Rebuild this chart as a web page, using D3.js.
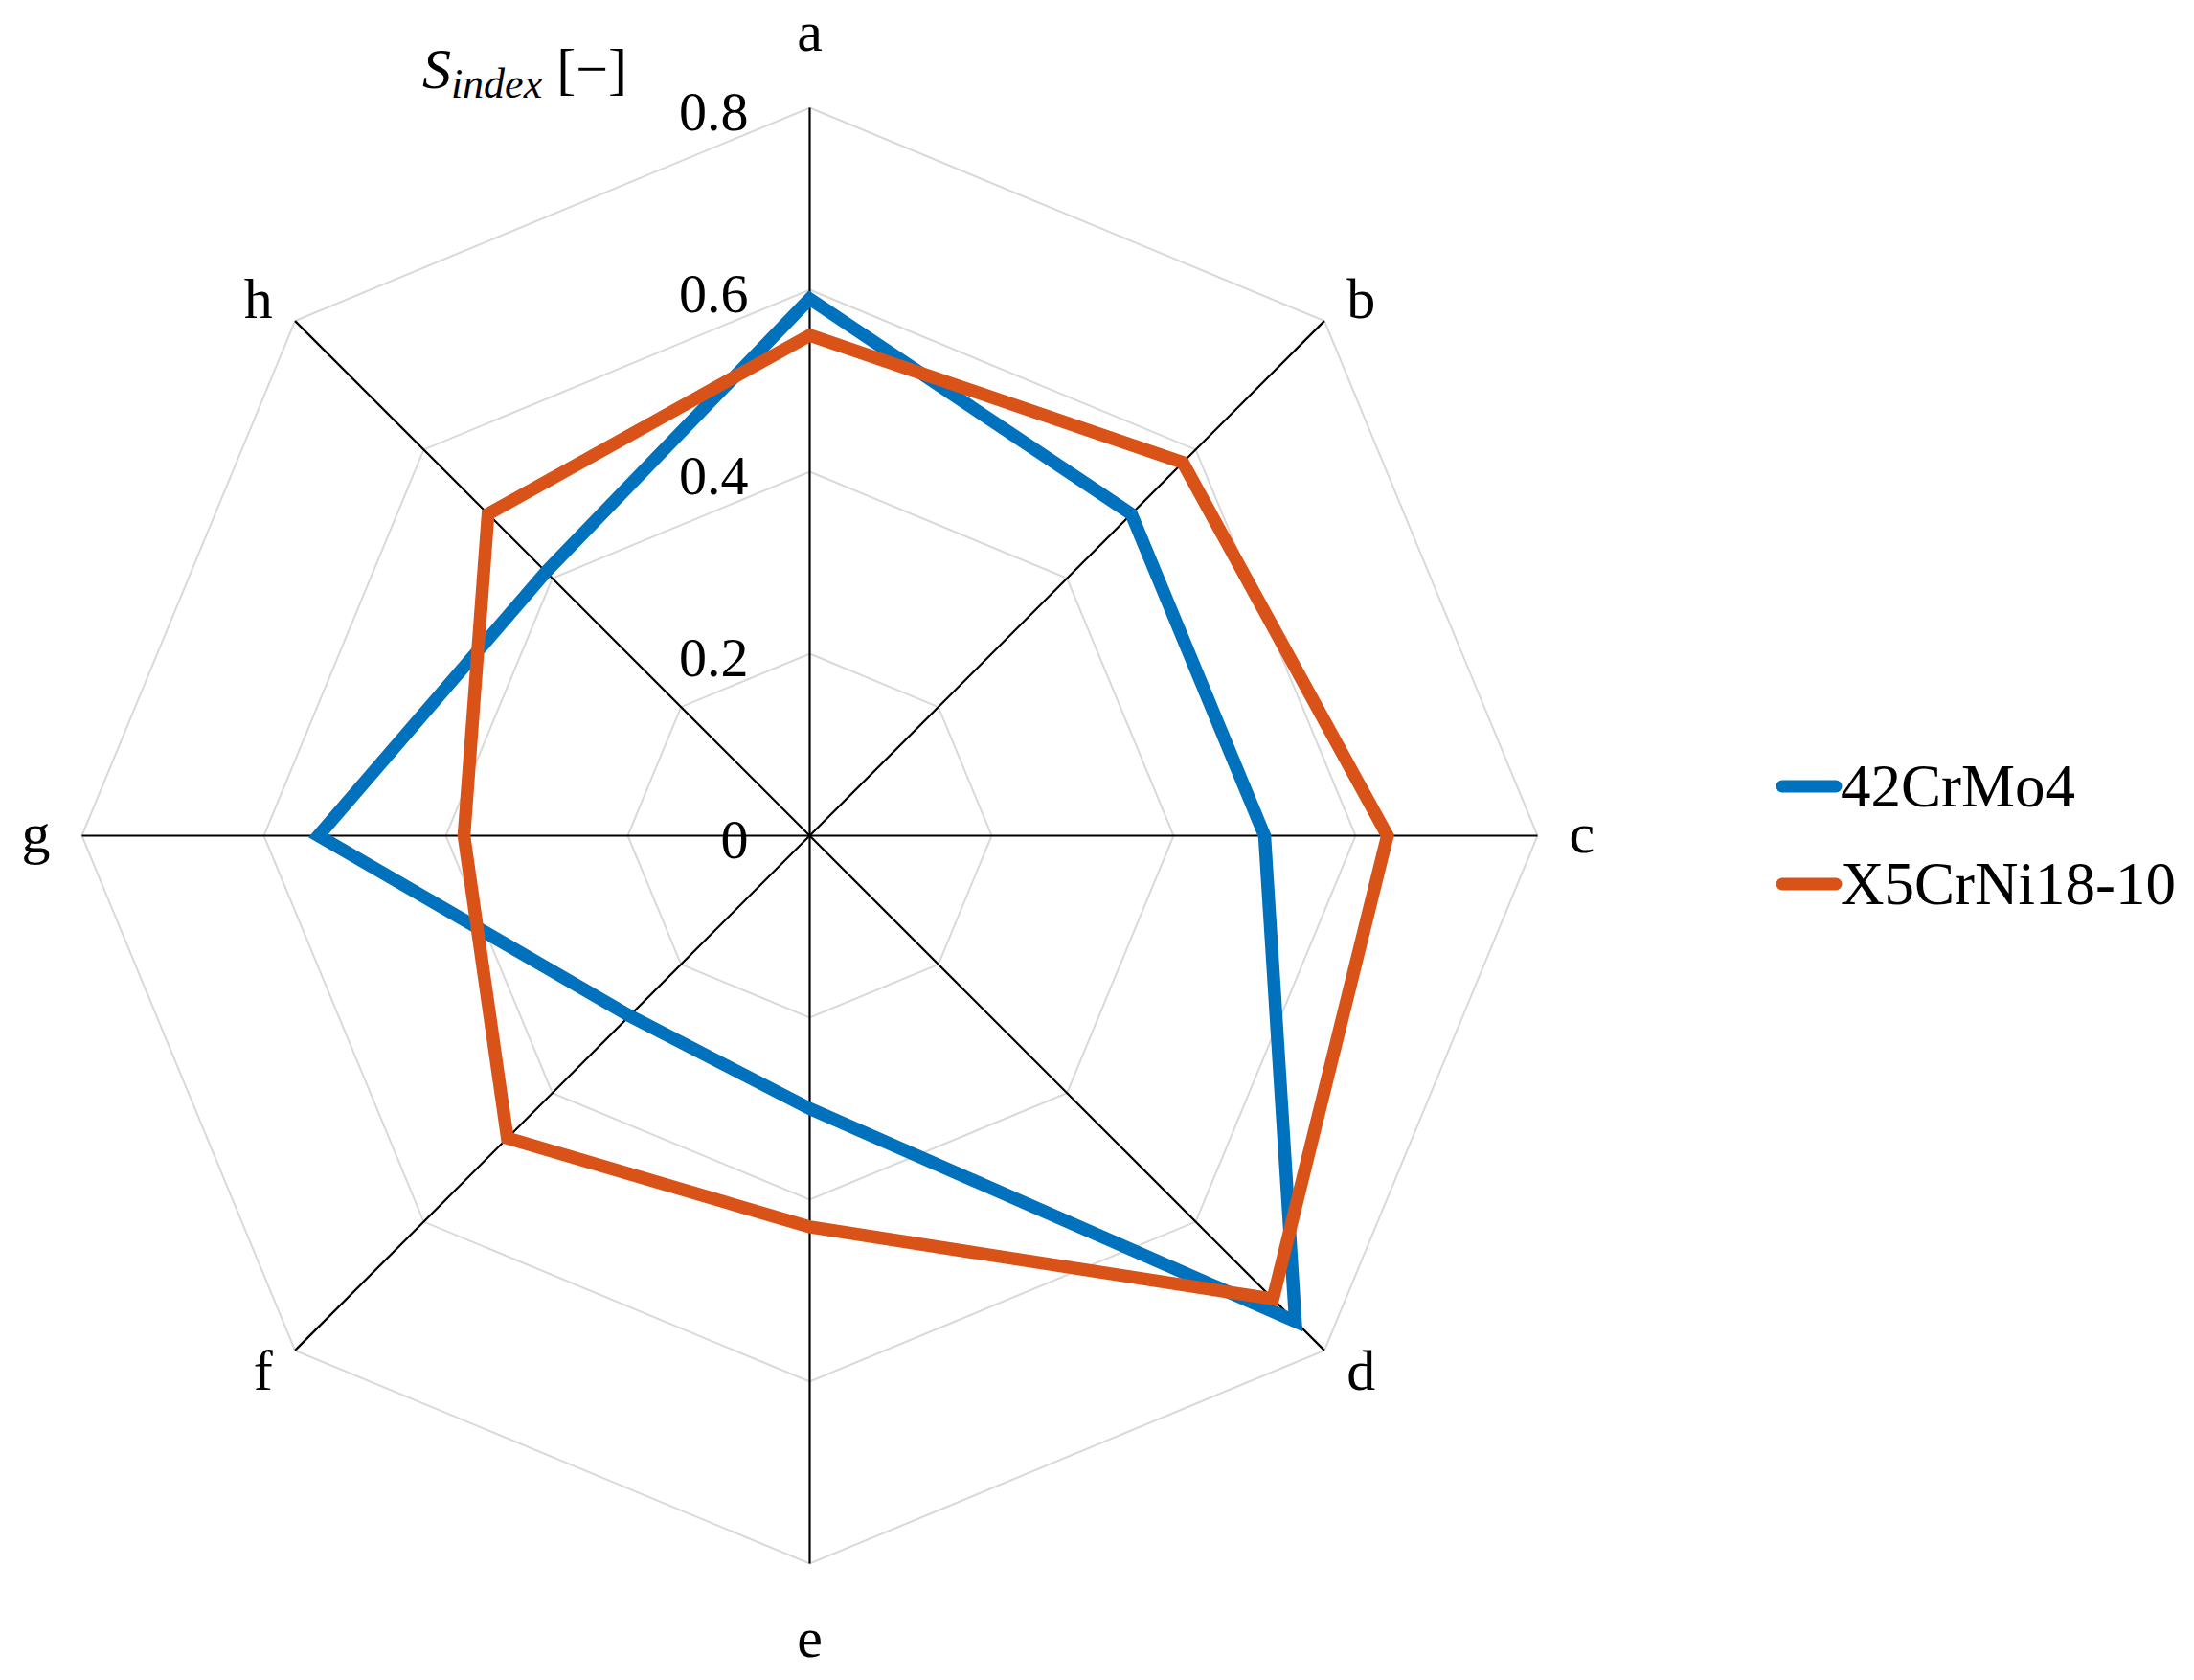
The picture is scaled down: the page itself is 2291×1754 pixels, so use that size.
<!DOCTYPE html>
<html>
<head>
<meta charset="utf-8">
<script src="https://cdn.jsdelivr.net/npm/d3@7"></script>
<style>
  html, body { margin: 0; padding: 0; background: #fff; }
  svg text { font-family: "Palatino Linotype", Palatino, "Book Antiqua", "Liberation Serif", serif; fill: #000; }
</style>
</head>
<body>
<svg id="chart" width="2291" height="1754"></svg>
<script>
// axis categories, clockwise from the top
const categories = ['a', 'b', 'c', 'd', 'e', 'f', 'g', 'h'];

// S_index values
const crMo = [0.59, 0.50, 0.50, 0.755, 0.30, 0.28, 0.54, 0.41];
const crNi = [0.55, 0.58, 0.635, 0.72, 0.43, 0.47, 0.38, 0.50];

const seriesNames = ['42CrMo4', 'X5CrNi18-10'];
const seriesColors = ['#0072BD', '#D95319'];

const tickValues = [0, 0.2, 0.4, 0.6, 0.8];
const tickLabels = ['0', '0.2', '0.4', '0.6', '0.8'];

const cx = 845.5, cy = 872.5, R = 760;

const svg = d3.select('#chart');
const g = svg.append('g').attr('transform', `translate(${cx},${cy})`);

const r = d3.scaleLinear().domain([0, 0.8]).range([0, R]);
// one spoke per category, starting at 12 o'clock
const step = 2 * Math.PI / categories.length;
const ang = (i) => i * step;

const px = (i, v) => Math.sin(ang(i)) * r(v);
const py = (i, v) => -Math.cos(ang(i)) * r(v);

const radial = d3.lineRadial()
    .angle((d, i) => ang(i))
    .radius((d) => r(d))
    .curve(d3.curveLinearClosed);

// grid rings
g.append('g').attr('class', 'grid')
  .selectAll('path')
  .data(tickValues.filter((t) => t > 0))
  .join('path')
    .attr('d', (t) => radial(categories.map(() => t)))
    .attr('fill', 'none')
    .attr('stroke', '#d9d9d9')
    .attr('stroke-width', 2);

// spokes
g.append('g').attr('class', 'spokes')
  .selectAll('line')
  .data(categories)
  .join('line')
    .attr('x1', 0).attr('y1', 0)
    .attr('x2', (d, i) => px(i, 0.8))
    .attr('y2', (d, i) => py(i, 0.8))
    .attr('stroke', '#000')
    .attr('stroke-width', 2.2);

// radial tick labels, left of the 'a' spoke
g.append('g').attr('class', 'ticks')
  .selectAll('text')
  .data(tickValues)
  .join('text')
    .attr('x', -64)
    .attr('y', (t) => -r(t) + 23)
    .attr('text-anchor', 'end')
    .attr('font-size', 58)
    .text((t, i) => tickLabels[i]);

// category labels, pushed outward from each spoke tip
function labelPos(i) {
  const s = Math.sin(ang(i)), c = Math.cos(ang(i));
  const tx = px(i, 0.8), ty = py(i, 0.8);
  let dy;
  if (c > 0.9) dy = -60;
  else if (c > 0.1) dy = -3;
  else if (c > -0.1) dy = 17;
  else if (c > -0.9) dy = 41;
  else dy = 97;
  const anchor = s > 0.1 ? 'start' : (s < -0.1 ? 'end' : 'middle');
  return {x: tx + s * 33, y: ty + dy, anchor};
}

g.append('g').attr('class', 'cats')
  .selectAll('text')
  .data(categories)
  .join('text')
    .each(function (d, i) {
      const p = labelPos(i);
      d3.select(this).attr('x', p.x).attr('y', p.y).attr('text-anchor', p.anchor);
    })
    .attr('font-size', 60)
    .text((d) => d);

// data series
g.append('g').attr('class', 'series')
  .selectAll('path')
  .data([crMo, crNi])
  .join('path')
    .attr('d', (d) => radial(d))
    .attr('fill', 'none')
    .attr('stroke', (d, i) => seriesColors[i])
    .attr('stroke-width', 13.5)
    .attr('stroke-linejoin', 'miter');

// axis title S_index [−]
const title = svg.append('text')
    .attr('x', 655)
    .attr('y', 92)
    .attr('text-anchor', 'end')
    .attr('font-size', 60);
title.append('tspan').attr('font-style', 'italic').text('S');
title.append('tspan').attr('font-style', 'italic').attr('font-size', 44).attr('dy', 10).text('index');
title.append('tspan').attr('dy', -10).text(' [\u2212]');

// legend
const legend = svg.append('g').attr('class', 'legend')
  .attr('transform', 'translate(1855,821)');

const item = legend.selectAll('g')
  .data(seriesNames)
  .join('g')
    .attr('transform', (d, i) => `translate(0,${i * 102})`);

item.append('line')
    .attr('x1', 6).attr('x2', 62)
    .attr('y1', 0).attr('y2', 0)
    .attr('stroke', (d, i) => seriesColors[i])
    .attr('stroke-width', 13)
    .attr('stroke-linecap', 'round');

item.append('text')
    .attr('x', 67)
    .attr('y', 21)
    .attr('font-size', 63)
    .text((d) => d);
</script>
</body>
</html>
